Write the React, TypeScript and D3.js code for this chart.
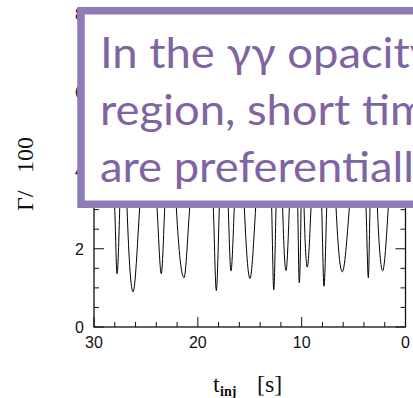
import React from 'react';
import * as d3 from 'd3';

// dips of the curve (t in s, Gamma/100)
const dipT = [27.78, 26.24, 23.52, 21.33, 18.22, 16.81, 14.98, 12.69, 11.51, 10.23, 9.46, 7.85, 6.09, 3.58, 2.2];
const dipMin = [1.36, 0.9, 1.36, 1.26, 0.93, 1.43, 1.24, 0.95, 1.44, 1.13, 1.53, 1.04, 1.41, 1.26, 1.44];
// where each dip crosses the bottom edge of the text box (Gamma ~ 3.05)
const edgeLevel = 3.05;
const dipEnterT = [28.01, 26.82, 23.93, 22.07, 18.51, 17.07, 15.52, 12.89, 11.83, 10.38, 9.77, 8.07, 6.69, 3.8, 2.71];
const dipExitT = [27.52, 25.6, 23.19, 20.78, 17.93, 16.49, 14.43, 12.47, 11.19, 10.06, 9.1, 7.59, 5.41, 3.42, 1.66];
// maxima between dips, hidden behind the box (estimated)
const peakT = [29.5, 27.17, 24.8, 22.6, 19.6, 17.5, 16.0, 13.7, 12.15, 10.8, 9.9, 8.6, 7.15, 4.6, 3.05, 1.0];
const peakVal = [7.2, 7.6, 7.0, 7.4, 6.8, 7.5, 7.1, 7.3, 7.6, 7.2, 7.7, 7.0, 7.4, 6.9, 7.5, 7.0];

const xMajor = [30, 20, 10, 0];
const yMajor = [0, 2, 4, 6, 8];

const boxLines = ['In the \u03b3\u03b3 opacity', 'region, short time', 'are preferentially'];

const W = 413;
const H = 398;
const left = 94;
const right = 405.5;
const top = 14;
const bottom = 327;

const App: React.FC = () => {
  const x = d3.scaleLinear().domain([30, 0]).range([left, right]);
  const y = d3.scaleLinear().domain([0, 8]).range([bottom, top]);

  const pts: [number, number][] = [];
  dipT.forEach((t, i) => {
    pts.push([peakT[i], peakVal[i]]);
    pts.push([dipEnterT[i], edgeLevel]);
    pts.push([t, dipMin[i]]);
    pts.push([dipExitT[i], edgeLevel]);
  });
  pts.push([peakT[peakT.length - 1], peakVal[peakVal.length - 1]]);

  const line = d3
    .line<[number, number]>()
    .x((d) => x(d[0]))
    .y((d) => y(d[1]))
    .curve(d3.curveMonotoneX);

  const xMinor = d3.range(0, 31, 2).filter((v) => v % 10 !== 0);
  const yMinor = d3.range(0, 8.01, 0.5).filter((v) => v % 2 !== 0);

  const tickColor = '#111';

  return (
    <div style={{ position: 'fixed', left: 0, top: 0 }}>
      <svg width={W} height={H} style={{ display: 'block', background: '#fff' }}>
        <defs>
          <clipPath id="plotClip">
            <rect x={left} y={top} width={right - left} height={bottom - top} />
          </clipPath>
        </defs>

        {/* ticks */}
        <g stroke={tickColor} strokeWidth={1}>
          {xMinor.map((v) => (
            <g key={'xm' + v}>
              <line x1={x(v)} x2={x(v)} y1={bottom} y2={bottom - 5} />
              <line x1={x(v)} x2={x(v)} y1={top} y2={top + 5} />
            </g>
          ))}
          {xMajor.map((v) => (
            <g key={'xM' + v}>
              <line x1={x(v)} x2={x(v)} y1={bottom} y2={bottom - 10} />
              <line x1={x(v)} x2={x(v)} y1={top} y2={top + 10} />
            </g>
          ))}
          {yMinor.map((v) => (
            <g key={'ym' + v}>
              <line x1={left} x2={left + 5} y1={y(v)} y2={y(v)} />
              <line x1={right} x2={right - 5} y1={y(v)} y2={y(v)} />
            </g>
          ))}
          {yMajor.map((v) => (
            <g key={'yM' + v}>
              <line x1={left} x2={left + 10} y1={y(v)} y2={y(v)} />
              <line x1={right} x2={right - 10} y1={y(v)} y2={y(v)} />
            </g>
          ))}
        </g>

        <path d={line(pts) || ''} fill="none" stroke="#000" strokeWidth={1} clipPath="url(#plotClip)" />

        <rect x={left} y={top} width={right - left} height={bottom - top} fill="none" stroke="#111" strokeWidth={1.3} />

        {/* tick labels */}
        <g fontFamily="'Liberation Sans', Arial, sans-serif" fontSize={16} fill="#111">
          {xMajor.map((v) => (
            <text key={'xl' + v} x={x(v)} y={348} textAnchor="middle">
              {v}
            </text>
          ))}
          {yMajor.map((v) => (
            <text key={'yl' + v} x={84} y={y(v) + 6} textAnchor="end">
              {v}
            </text>
          ))}
        </g>

        {/* axis titles */}
        <g fontFamily="'Liberation Serif', 'DejaVu Serif', serif" fill="#111">
          <text x={213} y={392} fontSize={24}>t</text>
          <text x={220} y={396} fontSize={14} fontWeight="bold">inj</text>
          <text x={257} y={392} fontSize={24}>[s]</text>
          <g transform="translate(33,211) rotate(-90)">
            <text x={0} y={0} fontSize={24}>{'\u0393/'}</text>
            <text x={38} y={0} fontSize={24}>100</text>
          </g>
        </g>

        {/* annotation box */}
        <rect x={81} y={10.75} width={360} height={193.5} fill="#fff" stroke="#8F7BB5" strokeWidth={7.5} />
        <g fontFamily="Lato, 'Open Sans', sans-serif" fontSize={42} fill="#8064A2" transform="translate(100,0) scale(1.08,1)">
          {boxLines.map((s, i) => (
            <text key={s} x={0} y={68 + i * 57}>
              {s}
            </text>
          ))}
        </g>
      </svg>
    </div>
  );
};

export default App;
